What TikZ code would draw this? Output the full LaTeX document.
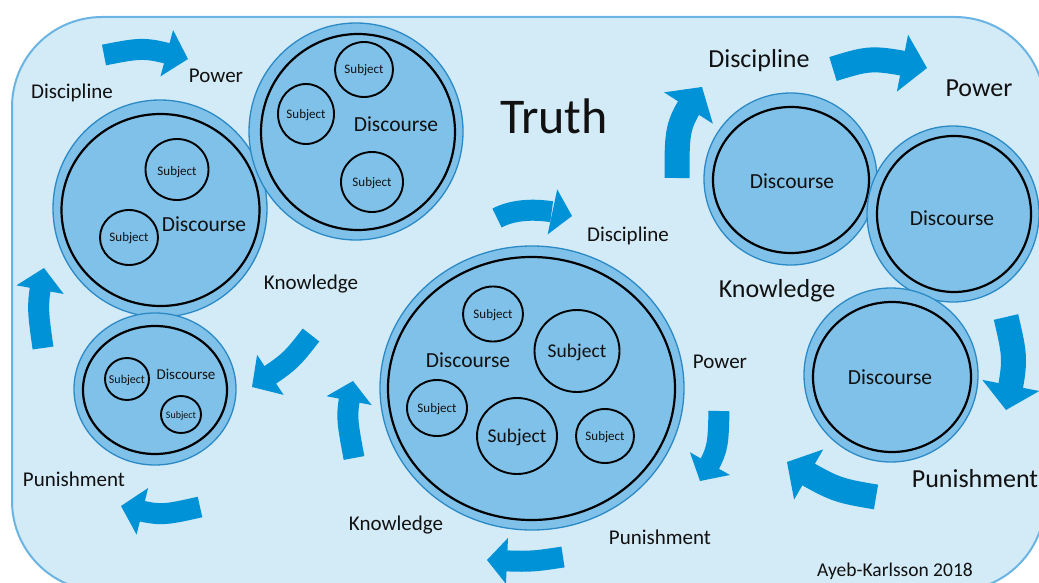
\documentclass[tikz,border=0pt]{standalone}
\usepackage{fontspec}
\setmainfont{Carlito}
\usetikzlibrary{arrows.meta,shapes.geometric,bending}
\definecolor{bgfill}{HTML}{D3EAF7}
\definecolor{bgedge}{HTML}{6AB4E3}
\definecolor{ringfill}{HTML}{7FC1E8}
\definecolor{ringedge}{HTML}{2B8AC6}
\definecolor{arrowblue}{HTML}{0092D6}
\definecolor{txt}{HTML}{111111}
\tikzset{
  ring/.style={ellipse, fill=ringfill, draw=ringedge, line width=1.3pt, inner sep=0pt},
  core/.style={ellipse, draw=black, line width=2.2pt, inner sep=0pt},
  subj/.style={ellipse, draw=black, line width=1.9pt, inner sep=0pt},
  lab/.style={anchor=base, text=txt, inner sep=0pt},
  tin/.style={anchor=center, text=txt, inner sep=0pt, text depth=0pt},
  fsL/.style={font=\fontsize{21}{24}\selectfont},
  fsR/.style={font=\fontsize{26}{30}\selectfont},
  fsD/.style={font=\fontsize{21.5}{24}\selectfont},
  fsS/.style={font=\fontsize{13}{15}\selectfont},
  fsB/.style={font=\fontsize{19.5}{22}\selectfont},
  arrS/.style={draw=arrowblue, line width=21pt, -{Triangle[length=22pt,width=48pt,line width=0pt,flex]}},
  arrM/.style={draw=arrowblue, line width=21pt, -{Triangle[length=20pt,width=46pt,line width=0pt,flex]}},
  arrR/.style={draw=arrowblue, line width=25pt, -{Triangle[length=25pt,width=58pt,line width=0pt,flex]}},
}
\begin{document}
\begin{tikzpicture}[x=1pt,y=-1pt]
\useasboundingbox (0,0) rectangle (1039,583);
\clip (0,0) rectangle (1039,583);
% background panel
\draw[fill=bgfill, draw=bgedge, line width=2pt, rounded corners=90pt] (12,17) rectangle (1045,591);

% ---------- left cluster ----------
\node[ring, minimum width=214pt, minimum height=217pt] (Aout) at (160,208.5) {};
\node[core, minimum width=198pt, minimum height=192pt] (Ain) at (160.5,210) {};
\node[ring, minimum width=214pt, minimum height=217pt] (Bout) at (356,131.5) {};
\node[core, minimum width=194pt, minimum height=196pt] (Bin) at (358,132) {};
\node[ring, minimum width=162pt, minimum height=152pt] (Cout) at (155,389) {};
\node[core, minimum width=144pt, minimum height=128pt] (Cin) at (155,390) {};

\node[subj, minimum width=63pt, minimum height=61pt] (As1) at (177,169.5) {};
\node[subj, minimum width=58pt, minimum height=55pt] (As2) at (129,237.5) {};
\node[subj, minimum width=58pt, minimum height=55pt] (Bs1) at (364,69.5) {};
\node[subj, minimum width=56pt, minimum height=60pt] (Bs2) at (306,114) {};
\node[subj, minimum width=62pt, minimum height=60pt] (Bs3) at (372,182) {};
\node[subj, minimum width=44pt, minimum height=42pt] (Cs1) at (127,379) {};
\node[subj, minimum width=40pt, minimum height=37pt] (Cs2) at (181,414.5) {};

\node[tin, fsD] (At) at (204,224) {Discourse};
\node[tin, fsS] (Ast1) at (177,171) {Subject};
\node[tin, fsS] (Ast2) at (129,237) {Subject};
\node[tin, fsD] (Bt) at (396,124) {Discourse};
\node[tin, fsS] (Bst1) at (364,69) {Subject};
\node[tin, fsS] (Bst2) at (306,114) {Subject};
\node[tin, fsS] (Bst3) at (372,182) {Subject};
\node[tin, font=\fontsize{15}{17}\selectfont] (Ct) at (186,374) {Discourse};
\node[tin, font=\fontsize{12}{14}\selectfont] (Cst1) at (127,379) {Subject};
\node[tin, font=\fontsize{10}{12}\selectfont] (Cst2) at (181,415) {Subject};

% ---------- centre cluster ----------
\node[ring, minimum width=304pt, minimum height=284pt] (Dout) at (532,388) {};
\node[core, minimum width=287pt, minimum height=263pt] (Din) at (531.5,388.5) {};
\node[subj, minimum width=60pt, minimum height=55pt] (Ds1) at (493,314) {};
\node[subj, minimum width=85pt, minimum height=82pt] (Ds2) at (577,351) {};
\node[subj, minimum width=60pt, minimum height=56pt] (Ds3) at (437,408) {};
\node[subj, minimum width=80pt, minimum height=76pt] (Ds4) at (517,436) {};
\node[subj, minimum width=58pt, minimum height=54pt] (Ds5) at (605,436) {};
\node[tin, fsD] (Dt) at (468,360) {Discourse};
\node[tin, fsS] (Dst1) at (493,314) {Subject};
\node[tin, fsB] (Dst2) at (577,351) {Subject};
\node[tin, fsS] (Dst3) at (437,408) {Subject};
\node[tin, fsB] (Dst4) at (517,436) {Subject};
\node[tin, fsS] (Dst5) at (605,436) {Subject};

% ---------- right cluster ----------
\node[ring, minimum width=173pt, minimum height=172pt] (Eout) at (790.5,179) {};
\node[core, minimum width=156pt, minimum height=146pt] (Ein) at (791,180) {};
\node[ring, minimum width=172pt, minimum height=176pt] (Fout) at (953,214) {};
\node[core, minimum width=154pt, minimum height=156pt] (Fin) at (954,214) {};
\node[ring, minimum width=174pt, minimum height=174pt] (Gout) at (891,375) {};
\node[core, minimum width=158pt, minimum height=150pt] (Gin) at (892,377) {};
\node[tin, fsD] (Et) at (792,181) {Discourse};
\node[tin, fsD] (Ft) at (952,218) {Discourse};
\node[tin, fsD] (Gt) at (890,377) {Discourse};

% ---------- labels ----------
\node[lab, font=\fontsize{50}{56}\selectfont] (truth) at (554,134) {Truth};
\node[lab, fsL] (l1) at (72,99) {Discipline};
\node[lab, fsL] (l2) at (216,83) {Power};
\node[lab, fsL] (l3) at (311,289) {Knowledge};
\node[lab, fsL] (l4) at (74,486) {Punishment};
\node[lab, fsL] (m1) at (628,241) {Discipline};
\node[lab, fsL] (m2) at (720,368) {Power};
\node[lab, fsL] (m3) at (660,544) {Punishment};
\node[lab, fsL] (m4) at (396,530) {Knowledge};
\node[lab, fsR] (r1) at (759,68) {Discipline};
\node[lab, fsR] (r2) at (979,97) {Power};
\node[lab, fsR] (r3) at (975,487) {Punishment};
\node[lab, fsR] (r4) at (777,297) {Knowledge};
\node[lab, font=\fontsize{19.5}{22}\selectfont] (credit) at (895,576) {Ayeb-Karlsson 2018};

% ---------- arrows ----------
\coordinate (a1s) at (104,55);   \coordinate (a1e) at (188,59);
\coordinate (a2s) at (43,348);   \coordinate (a2e) at (44,268);
\coordinate (a3s) at (311,335);  \coordinate (a3e) at (252,387);
\coordinate (a4s) at (200,507);  \coordinate (a4e) at (121,506);
\draw[arrS] (a1s) .. controls (145,47) .. (a1e);
\draw[arrS] (a2s) .. controls (37,305) .. (a2e);
\draw[arrS] (a3s) .. controls (290,362) .. (a3e);
\draw[arrS] (a4s) .. controls (160,516) .. (a4e);

\coordinate (b1s) at (497,218);  \coordinate (b1e) at (572,216);
\coordinate (b2s) at (719,411);  \coordinate (b2e) at (700,481);
\coordinate (b3s) at (563,557);  \coordinate (b3e) at (487,560);
\coordinate (b4s) at (354,458);  \coordinate (b4e) at (353,381);
\draw[arrM] (b1s) .. controls (520,206) and (550,210) .. (b1e);
\draw[arrM] (b2s) .. controls (718,450) .. (b2e);
\draw[arrM] (b3s) .. controls (530,562) .. (b3e);
\draw[arrM] (b4s) .. controls (346,415) .. (b4e);

\coordinate (c1s) at (677,178);  \coordinate (c1e) at (702,87);
\coordinate (c2s) at (833,69);   \coordinate (c2e) at (927,68);
\coordinate (c3s) at (1006,317); \coordinate (c3e) at (1006,410);
\coordinate (c4s) at (876,497);  \coordinate (c4e) at (787,462);
\draw[arrR] (c1s) .. controls (677,125) .. (c1e);
\draw[arrR] (c2s) .. controls (872,57) .. (c2e);
\draw[arrR] (c3s) .. controls (1016,360) .. (c3e);
\draw[arrR] (c4s) .. controls (835,490) .. (c4e);
\end{tikzpicture}
\end{document}
